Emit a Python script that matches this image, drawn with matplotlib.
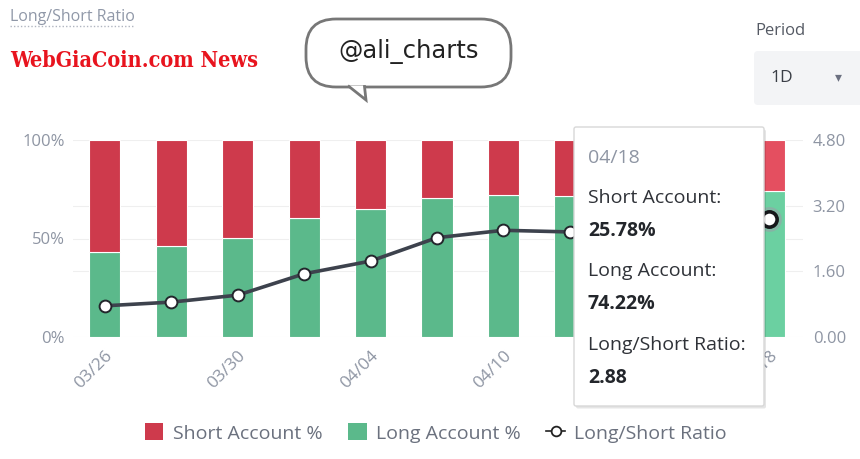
import numpy as np
import matplotlib.pyplot as plt
from matplotlib.patches import FancyBboxPatch, Polygon, Patch
from matplotlib.lines import Line2D

plt.rcParams['font.family'] = ['Open Sans', 'DejaVu Sans']

# data
dates = ["03/26", "03/28", "03/30", "04/02", "04/04", "04/07",
         "04/10", "04/12", "04/14", "04/16", "04/18"]
long_pct = [43.0, 46.0, 50.5, 60.6, 64.9, 70.8, 72.2, 71.8, 73.0, 73.6, 74.22]
short_pct = [100 - v for v in long_pct]
ratio = [0.76, 0.85, 1.02, 1.54, 1.85, 2.42, 2.60, 2.56, 2.70, 2.78, 2.88]
shown_ticks = [0, 2, 4, 6, 8, 10]

red = "#CE3A4C"
green = "#5BB98B"
red_hi = "#E44F60"
green_hi = "#6BD0A1"
grey_txt = "#8E95A3"
line_c = "#3D424D"

W, H = 860, 459
fig = plt.figure(figsize=(W / 100, H / 100), dpi=100)


def P(x, y):
    # pixel (from top-left) -> inches for dpi_scale_trans
    return x / 100, (H - y) / 100


tr = fig.dpi_scale_trans

ax = fig.add_axes([73 / W, 1 - 337 / H, 730 / W, 197 / H])
ax2 = ax.twinx()

x = np.arange(len(dates))
bar_c_long = [green] * (len(x) - 1) + [green_hi]
bar_c_short = [red] * (len(x) - 1) + [red_hi]
ax.bar(x, long_pct, width=0.47, color=bar_c_long, edgecolor="white", linewidth=0.8, zorder=2)
ax.bar(x, short_pct, width=0.47, bottom=long_pct, color=bar_c_short,
       edgecolor="white", linewidth=0.8, zorder=2)

for g in [0, 100 / 3, 50, 200 / 3, 100]:
    ax.axhline(g, color="#EFEFEF", lw=0.8, zorder=0)

ax.set_xlim(-0.48, 10.51)
ax.set_ylim(0, 100)
ax.set_yticks([0, 50, 100])
ax.set_yticklabels(["0%", "50%", "100%"])
ax.set_xticks([x[i] for i in shown_ticks])
ax.set_xticklabels([dates[i] for i in shown_ticks], rotation=45, ha="right",
                   rotation_mode="anchor")
ax.tick_params(length=0, labelsize=12, labelcolor=grey_txt, pad=6)
ax.tick_params(axis="x", pad=8, labelsize=12.5)

ax2.plot(x, ratio, color=line_c, lw=2.6, marker="o", ms=8.5, mfc="white",
         mec="#23262c", mew=1.4, zorder=3)
ax2.plot(x[-1], ratio[-1], marker="o", ms=17, color="#9aa0a8", alpha=0.45, zorder=3)
ax2.plot(x[-1], ratio[-1], marker="o", ms=11, mfc="white", mec="#15171a", mew=2.6, zorder=4)
ax2.set_ylim(0, 4.8)
ax2.set_yticks([0, 1.6, 3.2, 4.8])
ax2.set_yticklabels([f"{v:.2f}" for v in [0, 1.6, 3.2, 4.8]])
ax2.tick_params(length=0, labelsize=12, labelcolor=grey_txt, pad=7)

for a in (ax, ax2):
    for s in a.spines.values():
        s.set_visible(False)

# header
fig.text(*P(10, 17), "Long/Short Ratio", transform=tr, fontsize=11.5, color="#9098a8",
         va="center", ha="left")
fig.add_artist(Line2D([0.10, 1.33], [(H - 26) / 100] * 2, transform=tr, color="#b0b5c0",
                      lw=1, ls=(0, (1, 1.5))))
fig.text(*P(10, 61), "WebGiaCoin.com News", transform=tr, fontsize=15.5, color="#E8141E",
         fontweight="bold", family="DejaVu Serif", fontstretch="condensed",
         va="center", ha="left")

# speech bubble
bx0, by0 = P(306, 87)
bx1, by1 = P(511, 19)
fig.add_artist(FancyBboxPatch((bx0, by0), bx1 - bx0, by1 - by0, transform=tr,
                              boxstyle="round,pad=0,rounding_size=0.3",
                              fc="white", ec="#777777", lw=2, zorder=5))
fig.add_artist(Polygon([P(349, 86), P(366, 100), P(364, 86)], closed=True,
                       transform=tr, fc="white", ec="none", zorder=6))
fig.add_artist(Line2D(*zip(P(349, 86.5), P(366, 100), P(364.5, 86.5)), transform=tr,
                      color="#777777", lw=2, zorder=7, solid_joinstyle="miter"))
fig.text(*P(409, 51), "@ali_charts", transform=tr, fontsize=17.5, color="#222222",
         family="DejaVu Sans", va="center", ha="center", zorder=8)

# period selector
fig.text(*P(755, 31), "Period", transform=tr, fontsize=12, color="#555a64",
         va="center", ha="left")
px0, py0 = P(754, 105)
px1, py1 = P(866, 51)
fig.add_artist(FancyBboxPatch((px0, py0), px1 - px0, py1 - py0, transform=tr,
                              boxstyle="round,pad=0,rounding_size=0.04",
                              fc="#F3F4F6", ec="none", zorder=1))
fig.text(*P(770, 78), "1D", transform=tr, fontsize=12.5, color="#3a3e46",
         va="center", ha="left")
fig.text(*P(838, 77), "▾", transform=tr, fontsize=10, color="#6b7080",
         va="center", ha="center", family="DejaVu Sans")

# tooltip
tx0, ty0 = P(574, 406)
tx1, ty1 = P(764, 127)
fig.add_artist(FancyBboxPatch((tx0 + 0.02, ty0 - 0.025), tx1 - tx0, ty1 - ty0, transform=tr,
                              boxstyle="round,pad=0,rounding_size=0.02",
                              fc="#000000", ec="none", alpha=0.10, zorder=9))
fig.add_artist(FancyBboxPatch((tx0, ty0), tx1 - tx0, ty1 - ty0, transform=tr,
                              boxstyle="round,pad=0,rounding_size=0.02",
                              fc="white", ec="#D8D8D8", lw=1, zorder=10))
tip_lines = [("04/18", 158, grey_txt, "normal"),
             ("Short Account:", 198, "#2f3238", "normal"),
             ("25.78%", 231, "#23262b", "bold"),
             ("Long Account:", 271, "#2f3238", "normal"),
             ("74.22%", 304, "#23262b", "bold"),
             ("Long/Short Ratio:", 345, "#2f3238", "normal"),
             ("2.88", 378, "#23262b", "bold")]
for txt, yy, col, wt in tip_lines:
    fig.text(*P(588, yy), txt, transform=tr, fontsize=14, color=col, fontweight=wt,
             va="center", ha="left", zorder=11)

# legend
handles = [Patch(fc=red, ec="none"), Patch(fc=green, ec="none"),
           Line2D([], [], color="#222222", lw=1.2, marker="o", ms=7, mfc="white",
                  mec="#222222", mew=1.3)]
fig.legend(handles, ["Short Account %", "Long Account %", "Long/Short Ratio"],
           loc="center", bbox_to_anchor=(0.507, 1 - 433 / H), ncol=3, frameon=False,
           fontsize=14, labelcolor="#6b717e", handlelength=0.95, handleheight=0.95,
           handletextpad=0.5, columnspacing=1.3)

fig.savefig("out.png", dpi=100)
